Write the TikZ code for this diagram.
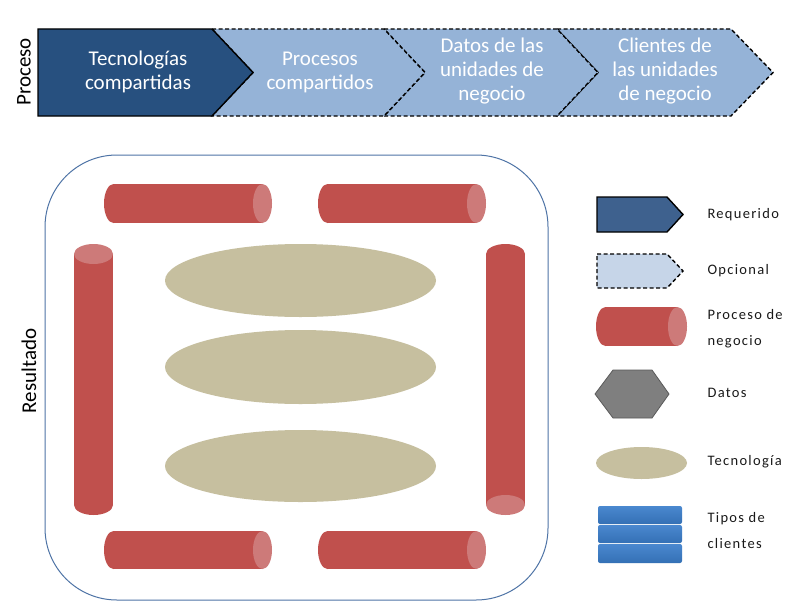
\documentclass[tikz,border=0pt]{standalone}
\usepackage{fontspec}
\setmainfont{Carlito}
\newfontfamily\legfont{Carlito}[LetterSpace=9]
\usetikzlibrary{shapes.geometric}
\definecolor{reqblue}{HTML}{27507F}
\definecolor{optblue}{HTML}{95B3D7}
\definecolor{legreq}{HTML}{3E618E}
\definecolor{legopt}{HTML}{C6D5E8}
\definecolor{cylred}{HTML}{C0504D}
\definecolor{cylcap}{HTML}{CD7A79}
\definecolor{techtan}{HTML}{C6BF9F}
\definecolor{frameblue}{HTML}{4F74A6}
\definecolor{datagray}{HTML}{7F7F7F}
\definecolor{bartop}{HTML}{4A88CF}
\definecolor{barbot}{HTML}{3470B5}
\tikzset{
  chevtext/.style={text=white, align=center, font=\fontsize{21}{24}\selectfont},
  reqshape/.style={draw=black, line width=1.4pt, fill=reqblue, line join=miter},
  optshape/.style={draw=black, line width=1.4pt, fill=optblue, dash pattern=on 4pt off 2.5pt, line join=miter},
  legtext/.style={anchor=west, align=left, font=\legfont\fontsize{14.5}{26}\selectfont, text=black!90},
  cylbody/.style={fill=cylred},
  cylend/.style={fill=cylcap},
  techell/.style={ellipse, fill=techtan, inner sep=0pt},
  sidelabel/.style={rotate=90, text=black, font=\fontsize{21}{24}\selectfont},
  barstyle/.style={top color=bartop, bottom color=barbot, rounded corners=2pt},
}
\newcommand\hcyl[4]{%
  \fill[cylbody] ({#1+9.5},#3) rectangle ({#2-9.5},#4);
  \fill[cylbody] ({#1+9.5},{(#3+#4)/2}) ellipse[x radius=9.5, y radius={(#4-#3)/2}];
  \fill[cylend] ({#2-9.5},{(#3+#4)/2}) ellipse[x radius=9.5, y radius={(#4-#3)/2}];
}
\newcommand\vcyltop[4]{%
  \fill[cylbody] (#1,{#3+10}) rectangle (#2,{#4-10});
  \fill[cylbody] ({(#1+#2)/2},{#4-10}) ellipse[x radius={(#2-#1)/2}, y radius=10];
  \fill[cylend] ({(#1+#2)/2},{#3+10}) ellipse[x radius={(#2-#1)/2}, y radius=10];
}
\newcommand\vcylbot[4]{%
  \fill[cylbody] (#1,{#3+10}) rectangle (#2,{#4-10});
  \fill[cylbody] ({(#1+#2)/2},{#3+10}) ellipse[x radius={(#2-#1)/2}, y radius=10];
  \fill[cylend] ({(#1+#2)/2},{#4-10}) ellipse[x radius={(#2-#1)/2}, y radius=10];
}
\begin{document}
\begin{tikzpicture}[x=1pt,y=-1pt]
\useasboundingbox (0,0) rectangle (810,610);
\fill[white] (0,0) rectangle (810,610);

% process chevrons
\draw[optshape] (557,29) -- (731,29) -- (773,72.5) -- (731,116) -- (557,116) -- (598,72.5) -- cycle;
\draw[optshape] (384,29) -- (557,29) -- (598,72.5) -- (557,116) -- (384,116) -- (425,72.5) -- cycle;
\draw[optshape] (212,29) -- (384,29) -- (425,72.5) -- (384,116) -- (212,116) -- (253,72.5) -- cycle;
\draw[reqshape] (38,29) -- (212,29) -- (253,72.5) -- (212,116) -- (38,116) -- cycle;

\node[chevtext] (c1) at (138,72) {Tecnologías\\compartidas};
\node[chevtext] (c2) at (320,72) {Procesos\\compartidos};
\node[chevtext] (c3) at (492,71.5) {Datos de las\\unidades de\\negocio};
\node[chevtext] (c4) at (665,71.5) {Clientes de\\las unidades\\de negocio};

\node[sidelabel] (proceso) at (24,72) {Proceso};
\node[sidelabel] (resultado) at (29,371) {Resultado};

% result frame
\draw[frameblue, line width=1pt, rounded corners=72pt] (45,155) rectangle (548,600);

\hcyl{104}{272}{184}{223}
\hcyl{318}{486}{184}{223}
\hcyl{104}{272}{531}{569}
\hcyl{318}{486}{531}{569}
\vcyltop{74}{113}{244}{515}
\vcylbot{486}{525}{244}{515}

\node[techell, minimum width=271pt, minimum height=73pt] (t1) at (300.5,280.5) {};
\node[techell, minimum width=271pt, minimum height=74pt] (t2) at (300.5,367) {};
\node[techell, minimum width=271pt, minimum height=72pt] (t3) at (300.5,466) {};

% legend
\draw[draw=black, line width=1.4pt, fill=legreq, line join=miter] (597,197) -- (667,197) -- (683,214.5) -- (667,232) -- (597,232) -- cycle;
\draw[draw=black, line width=1.4pt, fill=legopt, dash pattern=on 4pt off 2.5pt, line join=miter] (597,254) -- (667,254) -- (683,271) -- (667,288) -- (597,288) -- cycle;
\hcyl{596}{687}{307}{346}
\draw[draw=black!65, line width=0.8pt, fill=datagray] (595,394) -- (613,370) -- (652,370) -- (669,394) -- (652,418) -- (613,418) -- cycle;
\node[techell, minimum width=91pt, minimum height=32pt] (lt) at (641.5,463) {};
\shade[barstyle] (598,506) rectangle (682,524);
\shade[barstyle] (598,525) rectangle (682,543);
\shade[barstyle] (598,544) rectangle (682,563);

\node[legtext] (lreq) at (704,214.5) {Requerido};
\node[legtext] (lopt) at (704,271) {Opcional};
\node[legtext] (lproc) at (704,328.5) {Proceso de\\negocio};
\node[legtext] (ldat) at (704,393) {Datos};
\node[legtext] (ltec) at (704,462) {Tecnología};
\node[legtext] (lcli) at (704,530.5) {Tipos de\\clientes};
\end{tikzpicture}
\end{document}
